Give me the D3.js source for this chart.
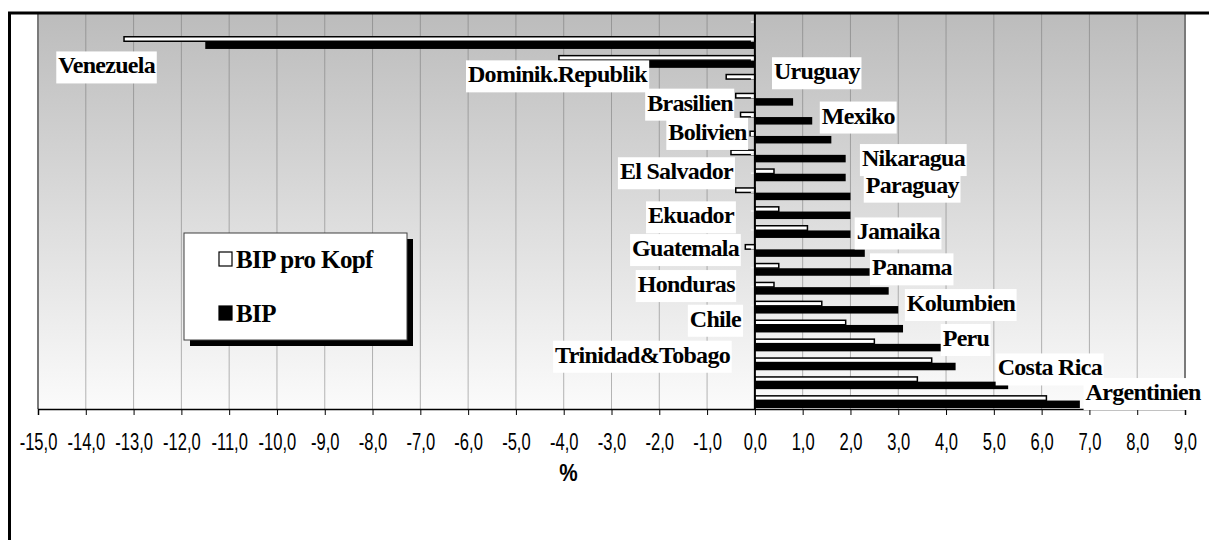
<!DOCTYPE html>
<html>
<head>
<meta charset="utf-8">
<script src="https://cdn.jsdelivr.net/npm/d3@7"></script>
<style>
  body { margin: 0; background: #fff; }
  svg { display: block; }
</style>
</head>
<body>
<svg width="1209" height="540"></svg>
<script>
// countries, top to bottom
var categories = [
  "Venezuela", "Dominik.Republik", "Uruguay", "Brasilien", "Mexiko",
  "Bolivien", "Nikaragua", "El Salvador", "Paraguay", "Ekuador",
  "Jamaika", "Guatemala", "Panama", "Honduras", "Kolumbien",
  "Chile", "Peru", "Trinidad&Tobago", "Costa Rica", "Argentinien"
];

// BIP pro Kopf (white bars)
var bipProKopf = [
  -13.2, -4.1, -0.6, -0.4, -0.3, -0.1, -0.5, 0.4, -0.4, 0.5,
  1.1, -0.2, 0.5, 0.4, 1.4, 1.9, 2.5, 3.7, 3.4, 6.1
];

// BIP (black bars)
var bip = [
  -11.5, -2.3, 0.0, 0.8, 1.2, 1.6, 1.9, 1.9, 2.0, 2.0,
  2.0, 2.3, 2.4, 2.8, 3.0, 3.1, 3.9, 4.2, 5.3, 6.8
];

var tickValues = d3.range(-15, 10, 1);

// where the country labels were put by hand:
// x in % (negative = label ends there, positive = label starts there), dy in px from the row
var labelX = [
  -12.55, -2.26, 0.4, -0.46, 1.4, -0.17, 2.24, -0.46, 2.32, -0.44,
  2.13, -0.33, 2.45, -0.42, 3.18, -0.29, 3.93, -0.52, 5.08, 6.92
];
var labelDy = [
  33.5, 23.5, 1.5, 14, 8, 5.5, 12.7, 7, 1.5, 13.3,
  10.5, 8.2, 8.6, 6.4, 6.5, 3.3, 3.7, 1.5, -4.7, 1
];

var svg = d3.select("svg");

var plot = { left: 38, right: 1185, top: 14, bottom: 409 };

var x = d3.scaleLinear()
  .domain([-15, 9])
  .range([plot.left, plot.right]);

// one empty slot above Venezuela
var y = d3.scaleBand()
  .domain(categories)
  .range([plot.top + 17, plot.bottom]);

var defs = svg.append("defs");
var grad = defs.append("linearGradient")
  .attr("id", "bg")
  .attr("x1", 0).attr("y1", 0).attr("x2", 0).attr("y2", 1);
grad.append("stop").attr("offset", "0%").attr("stop-color", "#bcbcbc");
grad.append("stop").attr("offset", "100%").attr("stop-color", "#fbfbfb");

// plot area
svg.append("rect")
  .attr("x", plot.left)
  .attr("y", plot.top)
  .attr("width", plot.right - plot.left)
  .attr("height", plot.bottom - plot.top)
  .attr("fill", "url(#bg)");

// vertical gridlines
svg.append("g")
  .selectAll("line")
  .data(tickValues)
  .enter().append("line")
  .attr("x1", function(d) { return x(d); })
  .attr("x2", function(d) { return x(d); })
  .attr("y1", plot.top)
  .attr("y2", plot.bottom)
  .attr("stroke", "#707070")
  .attr("stroke-opacity", 0.5)
  .attr("stroke-width", 1);

// plot area side edges
svg.append("line")
  .attr("x1", plot.left).attr("x2", plot.left)
  .attr("y1", plot.top).attr("y2", plot.bottom)
  .attr("stroke", "#7a7a7a").attr("stroke-width", 2);
svg.append("line")
  .attr("x1", plot.right).attr("x2", plot.right)
  .attr("y1", plot.top).attr("y2", plot.bottom)
  .attr("stroke", "#7a7a7a").attr("stroke-width", 2);

var bw = y.bandwidth();
function rowCenter(d) { return y(d) + bw / 2 - 0.5; }

// black bars (BIP)
svg.append("g")
  .selectAll("rect")
  .data(categories)
  .enter().append("rect")
  .attr("x", function(d, i) { return x(Math.min(0, bip[i])); })
  .attr("width", function(d, i) { return Math.abs(x(bip[i]) - x(0)); })
  .attr("y", function(d) { return rowCenter(d) + 1.5; })
  .attr("height", 7.5)
  .attr("fill", "#000");

// white bars (BIP pro Kopf)
svg.append("g")
  .selectAll("rect")
  .data(categories)
  .enter().append("rect")
  .attr("x", function(d, i) { return x(Math.min(0, bipProKopf[i])); })
  .attr("width", function(d, i) { return Math.abs(x(bipProKopf[i]) - x(0)); })
  .attr("y", function(d) { return rowCenter(d) - 3.2; })
  .attr("height", 4.5)
  .attr("fill", "#fff")
  .attr("stroke", "#000")
  .attr("stroke-width", 1.5);

// category axis at zero
svg.append("g")
  .selectAll("line")
  .data([""].concat(categories))
  .enter().append("line")
  .attr("x1", x(0) - 4)
  .attr("x2", x(0))
  .attr("y1", function(d, i) { return plot.top + 8 + i * bw; })
  .attr("y2", function(d, i) { return plot.top + 8 + i * bw; })
  .attr("stroke", "#f4f4f4")
  .attr("stroke-width", 1.5);

svg.append("line")
  .attr("x1", x(0)).attr("x2", x(0))
  .attr("y1", plot.top).attr("y2", plot.bottom)
  .attr("stroke", "#000").attr("stroke-width", 2);

// x axis
var xAxis = d3.axisBottom(x)
  .tickValues(tickValues)
  .tickSize(6)
  .tickFormat(function(d) { return d.toFixed(1).replace(".", ","); });

var xGroup = svg.append("g")
  .attr("transform", "translate(0," + plot.bottom + ")")
  .call(xAxis);
xGroup.select(".domain").attr("stroke", "#000").attr("stroke-width", 1.5);
xGroup.selectAll(".tick line").attr("stroke", "#000").attr("stroke-width", 1);
xGroup.selectAll(".tick text")
  .attr("y", 0)
  .attr("dy", 0)
  .attr("transform", "translate(0,41) scale(0.72,1)")
  .style("font-family", "'Liberation Sans', Arial, sans-serif")
  .style("font-size", "23px")
  .attr("fill", "#000");

svg.append("text")
  .attr("x", x(-3.9))
  .attr("y", 481)
  .attr("transform", "translate(" + x(-3.9) + ",0) scale(0.9,1) translate(" + (-x(-3.9)) + ",0)")
  .style("font-family", "'Liberation Sans', Arial, sans-serif")
  .style("font-size", "23px")
  .style("font-weight", "bold")
  .style("text-anchor", "middle")
  .text("%");

// country labels on white boxes
var labels = svg.append("g");
categories.forEach(function(c, i) {
  var g = labels.append("g");
  var bx = g.append("rect").attr("fill", "#fff");
  var t = g.append("text")
    .attr("x", x(labelX[i]))
    .attr("y", rowCenter(c) + labelDy[i])
    .style("text-anchor", labelX[i] < 0 ? "end" : "start")
    .style("font-family", "'Liberation Serif', 'Times New Roman', serif")
    .style("font-size", "24px")
    .style("font-weight", "bold")
    .style("letter-spacing", "-0.7px")
    .text(c);
  var b = t.node().getBBox();
  bx.attr("x", b.x - 2)
    .attr("y", rowCenter(c) + labelDy[i] - 22)
    .attr("width", b.width + 3)
    .attr("height", 32);
});

// legend
var legend = svg.append("g").attr("transform", "translate(184,233)");
legend.append("rect")
  .attr("x", 6).attr("y", 6)
  .attr("width", 223).attr("height", 107)
  .attr("fill", "#000");
legend.append("rect")
  .attr("x", 0).attr("y", 0)
  .attr("width", 223).attr("height", 107)
  .attr("fill", "#fff")
  .attr("stroke", "#404040")
  .attr("stroke-width", 1);

var legendItems = [
  { name: "BIP pro Kopf", fill: "#fff" },
  { name: "BIP", fill: "#000" }
];
legendItems.forEach(function(item, i) {
  legend.append("rect")
    .attr("x", 35).attr("y", 19 + i * 54)
    .attr("width", 13).attr("height", 14)
    .attr("fill", item.fill)
    .attr("stroke", "#000")
    .attr("stroke-width", 1.2);
  legend.append("text")
    .attr("x", 52)
    .attr("y", 35 + i * 54)
    .style("font-family", "'Liberation Serif', 'Times New Roman', serif")
    .style("font-size", "25px")
    .style("font-weight", "bold")
    .style("letter-spacing", "-0.6px")
    .text(item.name);
});

// outer frame (cut off at right and bottom)
svg.append("path")
  .attr("d", "M9.5,540 L9.5,13 L1209,13")
  .attr("fill", "none")
  .attr("stroke", "#000")
  .attr("stroke-width", 3);
</script>
</body>
</html>
